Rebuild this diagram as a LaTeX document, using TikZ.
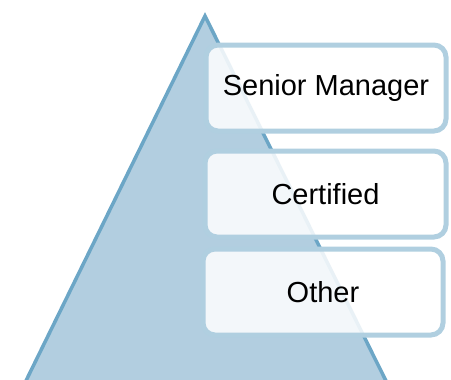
\documentclass[tikz,border=0pt]{standalone}
\usepackage{fontspec}
\setmainfont{Liberation Sans}

\definecolor{pyrfill}{HTML}{B2CEE0}
\definecolor{pyredge}{HTML}{6CA6C6}
\definecolor{boxedge}{HTML}{B0CFE0}

\begin{document}
\begin{tikzpicture}[x=1pt,y=-1pt,
    level/.style={draw=boxedge,line width=5pt,fill=white,fill opacity=0.85,
      text opacity=1,rounded corners=12pt,inner sep=0pt,
      font=\fontsize{29}{34}\selectfont}]
    \useasboundingbox (0,0) rectangle (451,380);
    \clip (0,0) rectangle (451,380);
    % pyramid, its base lies below the page
    \coordinate (apex)  at (205,16);
    \coordinate (left)  at (19,395);
    \coordinate (right) at (393,395);
    \draw[pyredge,fill=pyrfill,line width=3.5pt,line join=miter]
      (apex) -- (left) -- (right) -- cycle;
    % the three levels
    \node[level,minimum width=240pt,minimum height=86pt] (SM)  at (326,88)   {Senior Manager};
    \node[level,minimum width=241pt,minimum height=86pt] (CRT) at (325.5,194) {Certified};
    \node[level,minimum width=240pt,minimum height=86pt] (OTH) at (323,292)  {Other};
  \end{tikzpicture}
\end{document}
